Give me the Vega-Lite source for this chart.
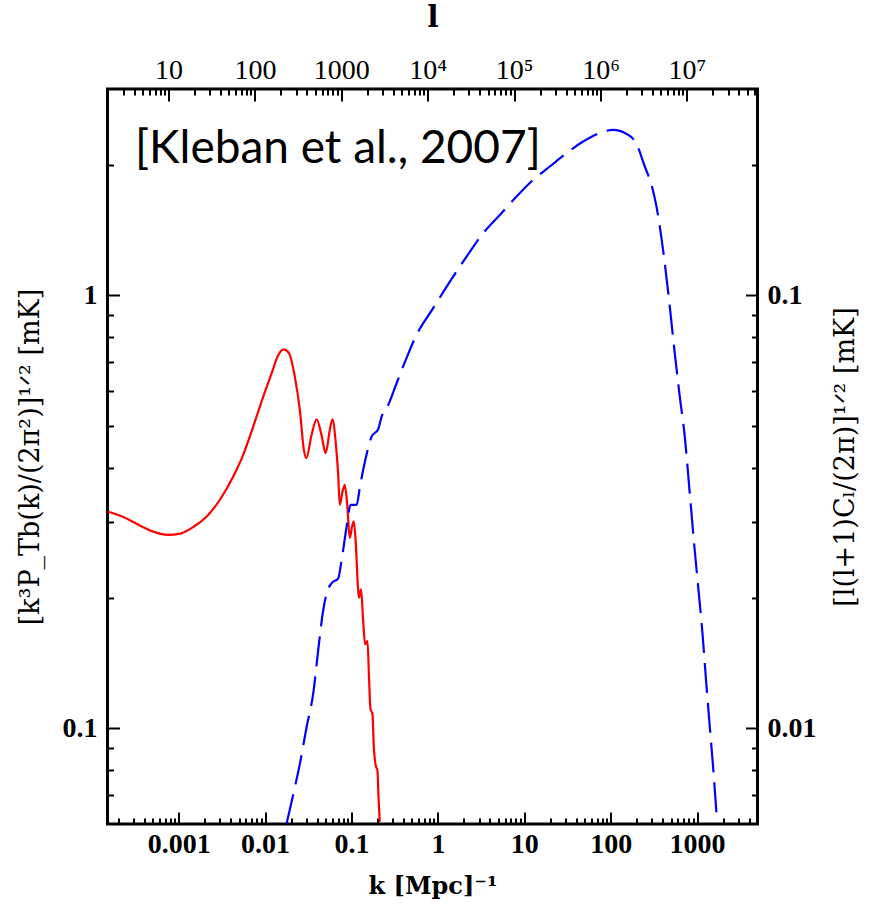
{
  "$schema": "https://vega.github.io/schema/vega-lite/v6.json",
  "width": 650,
  "height": 735,
  "autosize": "none",
  "padding": {"left": 107.5, "top": 89, "right": 111.5, "bottom": 86},
  "background": "white",
  "config": {
    "view": {"stroke": "black", "strokeWidth": 3},
    "axis": {"domain": false, "grid": false, "tickColor": "black", "tickWidth": 2, "labelColor": "black", "titleColor": "black", "labelOverlap": false, "labelFlush": false, "labelBound": false, "labelAngle": 0}
  },
  "datasets": {
    "red": [
      {"k": 0.00015, "v": 0.3167}, {"k": 0.000229, "v": 0.3075}, {"k": 0.000357, "v": 0.2936}, {"k": 0.000508, "v": 0.2844},
      {"k": 0.000758, "v": 0.2795}, {"k": 0.001035, "v": 0.2814}, {"k": 0.001475, "v": 0.2916}, {"k": 0.00211, "v": 0.3084},
      {"k": 0.003, "v": 0.337}, {"k": 0.00428, "v": 0.3814}, {"k": 0.00558, "v": 0.428}, {"k": 0.00728, "v": 0.497},
      {"k": 0.0095, "v": 0.583}, {"k": 0.01189, "v": 0.66}, {"k": 0.01417, "v": 0.727}, {"k": 0.0165, "v": 0.75},
      {"k": 0.019, "v": 0.734}, {"k": 0.0221, "v": 0.648}, {"k": 0.02526, "v": 0.543}, {"k": 0.0281, "v": 0.4395},
      {"k": 0.03, "v": 0.4205}, {"k": 0.0345, "v": 0.4759}, {"k": 0.03949, "v": 0.517}, {"k": 0.04498, "v": 0.4759},
      {"k": 0.0502, "v": 0.4318}, {"k": 0.0561, "v": 0.4886}, {"k": 0.0603, "v": 0.517}, {"k": 0.0658, "v": 0.4552},
      {"k": 0.07, "v": 0.3883}, {"k": 0.0732, "v": 0.3282}, {"k": 0.0787, "v": 0.352}, {"k": 0.0836, "v": 0.365},
      {"k": 0.0889, "v": 0.3311}, {"k": 0.0956, "v": 0.275}, {"k": 0.1016, "v": 0.2925}, {"k": 0.1063, "v": 0.3003},
      {"k": 0.1121, "v": 0.2679}, {"k": 0.1192, "v": 0.2091}, {"k": 0.1224, "v": 0.2001}, {"k": 0.1291, "v": 0.2091},
      {"k": 0.1362, "v": 0.1783}, {"k": 0.1437, "v": 0.1562}, {"k": 0.1531, "v": 0.1589}, {"k": 0.1598, "v": 0.1297},
      {"k": 0.1659, "v": 0.1106}, {"k": 0.1749, "v": 0.1077}, {"k": 0.181, "v": 0.091}, {"k": 0.191, "v": 0.0818},
      {"k": 0.1998, "v": 0.0797}, {"k": 0.2051, "v": 0.0698}, {"k": 0.2124, "v": 0.0607}
    ],
    "blue": [
      {"l": 233.0, "r": 0.00602}, {"l": 285.3, "r": 0.007188}, {"l": 332.2, "r": 0.008286}, {"l": 397.1, "r": 0.01007},
      {"l": 473.3, "r": 0.01203}, {"l": 540.8, "r": 0.01515}, {"l": 617.8, "r": 0.01874}, {"l": 676.5, "r": 0.02049},
      {"l": 772.7, "r": 0.02161}, {"l": 921.3, "r": 0.02219}, {"l": 1008.6, "r": 0.02446}, {"l": 1152, "r": 0.02921},
      {"l": 1281.7, "r": 0.03279}, {"l": 1503.9, "r": 0.03279}, {"l": 1642.4, "r": 0.03613}, {"l": 1876.6, "r": 0.04127},
      {"l": 2243, "r": 0.04716}, {"l": 2674, "r": 0.04906}, {"l": 2928, "r": 0.05246}, {"l": 3490, "r": 0.05582},
      {"l": 4365, "r": 0.06266}, {"l": 5697, "r": 0.0717}, {"l": 7106, "r": 0.07962}, {"l": 11570, "r": 0.09342},
      {"l": 18060, "r": 0.1076}, {"l": 28170, "r": 0.1229}, {"l": 43830, "r": 0.1392}, {"l": 68390, "r": 0.1535},
      {"l": 106700, "r": 0.1692}, {"l": 166100, "r": 0.185}, {"l": 259100, "r": 0.1986}, {"l": 404400, "r": 0.2132},
      {"l": 629200, "r": 0.2268}, {"l": 981500, "r": 0.2375}, {"l": 1399000, "r": 0.2414}, {"l": 1999000, "r": 0.2363},
      {"l": 2609000, "r": 0.224}, {"l": 3254000, "r": 0.1986}, {"l": 3890000, "r": 0.1801}, {"l": 4445000, "r": 0.1604},
      {"l": 4853000, "r": 0.1442}, {"l": 5545000, "r": 0.1187}, {"l": 6334000, "r": 0.09421}, {"l": 7237000, "r": 0.0735},
      {"l": 8270000, "r": 0.05834}, {"l": 9445000, "r": 0.04716}, {"l": 10790000, "r": 0.03488}, {"l": 12100000, "r": 0.02673},
      {"l": 13610000, "r": 0.02085}, {"l": 15140000, "r": 0.01656}, {"l": 16530000, "r": 0.01314}, {"l": 18390000, "r": 0.01007},
      {"l": 20080000, "r": 0.008139}, {"l": 22330000, "r": 0.006073}
    ],
    "note": [
      {"k": 0.000312, "v": 2.025, "label": "[Kleban et al., 2007]"}
    ]
  },
  "layer": [
    {
      "data": {"name": "red"},
      "mark": {"type": "line", "color": "#ff0000", "strokeWidth": 2.2, "interpolate": "monotone", "clip": true},
      "encoding": {
        "x": {
          "field": "k", "type": "quantitative",
          "scale": {"type": "log", "domain": [0.00015, 5000], "nice": false},
          "axis": {
            "orient": "bottom",
            "title": "k [Mpc]⁻¹",
            "titleFont": "DejaVu Serif", "titleFontWeight": "bold", "titleFontSize": 24, "titlePadding": 10,
            "values": [0.0002,0.0003,0.0004,0.0005,0.0006,0.0007,0.0008,0.0009,0.001,0.002,0.003,0.004,0.005,0.006,0.007,0.008,0.009,0.01,0.02,0.03,0.04,0.05,0.06,0.07,0.08,0.09,0.1,0.2,0.3,0.4,0.5,0.6,0.7,0.8,0.9,1,2,3,4,5,6,7,8,9,10,20,30,40,50,60,70,80,90,100,200,300,400,500,600,700,800,900,1000,2000,3000,4000],
            "labelExpr": "abs(log(datum.value)/LN10 - round(log(datum.value)/LN10)) < 0.001 ? format(datum.value, '~g') : ''",
            "tickSize": {"condition": {"test": "abs(log(datum.value)/LN10 - round(log(datum.value)/LN10)) < 0.001", "value": -12}, "value": -6},
            "labelPadding": 18,
            "labelFont": "Liberation Serif", "labelFontWeight": "bold", "labelFontSize": 28
          }
        },
        "y": {
          "field": "v", "type": "quantitative",
          "scale": {"type": "log", "domain": [0.06, 3], "nice": false},
          "axis": {
            "orient": "left",
            "title": "[k³P_Tb(k)/(2π²)]¹ᐟ²  [mK]",
            "titleFont": "DejaVu Serif", "titleFontWeight": "normal", "titleFontSize": 27, "titlePadding": 18,
            "values": [0.07,0.08,0.09,0.1,0.2,0.3,0.4,0.5,0.6,0.7,0.8,0.9,1,2],
            "labelExpr": "abs(log(datum.value)/LN10 - round(log(datum.value)/LN10)) < 0.001 ? format(datum.value, '~g') : ''",
            "tickSize": {"condition": {"test": "abs(log(datum.value)/LN10 - round(log(datum.value)/LN10)) < 0.001", "value": -12}, "value": -6},
            "labelPadding": 22.5,
            "labelFont": "Liberation Serif", "labelFontWeight": "bold", "labelFontSize": 28
          }
        }
      }
    },
    {
      "data": {"name": "note"},
      "mark": {"type": "text", "align": "left", "baseline": "alphabetic", "font": "Lato", "fontSize": 46, "color": "black"},
      "encoding": {
        "x": {"field": "k", "type": "quantitative", "scale": {"type": "log", "domain": [0.00015, 5000], "nice": false}, "axis": null},
        "y": {"field": "v", "type": "quantitative", "scale": {"type": "log", "domain": [0.06, 3], "nice": false}, "axis": null},
        "text": {"field": "label"}
      }
    },
    {
      "data": {"name": "blue"},
      "mark": {"type": "line", "color": "#0000ff", "strokeWidth": 2.2, "strokeDash": [30, 10], "interpolate": "monotone", "clip": true},
      "encoding": {
        "x": {
          "field": "l", "type": "quantitative",
          "scale": {"type": "log", "domain": [1.968, 65600000], "nice": false},
          "axis": {
            "orient": "top",
            "title": "l",
            "titleFont": "DejaVu Serif", "titleFontWeight": "bold", "titleFontSize": 30, "titlePadding": 18,
            "values": [3,4,5,6,7,8,9,10,20,30,40,50,60,70,80,90,100,200,300,400,500,600,700,800,900,1000,2000,3000,4000,5000,6000,7000,8000,9000,10000,20000,30000,40000,50000,60000,70000,80000,90000,100000,200000,300000,400000,500000,600000,700000,800000,900000,1000000,2000000,3000000,4000000,5000000,6000000,7000000,8000000,9000000,10000000,20000000,30000000,40000000,50000000,60000000],
            "labelExpr": "abs(log(datum.value)/LN10 - round(log(datum.value)/LN10)) < 0.001 ? (datum.value < 5000 ? format(datum.value, '~g') : '10' + (round(log(datum.value)/LN10) == 4 ? '⁴' : round(log(datum.value)/LN10) == 5 ? '⁵' : round(log(datum.value)/LN10) == 6 ? '⁶' : '⁷')) : ''",
            "tickSize": {"condition": {"test": "abs(log(datum.value)/LN10 - round(log(datum.value)/LN10)) < 0.001", "value": -12}, "value": -6},
            "labelPadding": 17,
            "labelFont": "Liberation Serif", "labelFontWeight": "normal", "labelFontSize": 28
          }
        },
        "y": {
          "field": "r", "type": "quantitative",
          "scale": {"type": "log", "domain": [0.006, 0.3], "nice": false},
          "axis": {
            "orient": "right",
            "title": "[l(l+1)Cₗ/(2π)]¹ᐟ² [mK]",
            "titleFont": "DejaVu Serif", "titleFontWeight": "normal", "titleFontSize": 27, "titlePadding": 16,
            "titleAngle": 270, "titleBaseline": "top",
            "values": [0.007,0.008,0.009,0.01,0.02,0.03,0.04,0.05,0.06,0.07,0.08,0.09,0.1,0.2],
            "labelExpr": "abs(log(datum.value)/LN10 - round(log(datum.value)/LN10)) < 0.001 ? format(datum.value, '~g') : ''",
            "tickSize": {"condition": {"test": "abs(log(datum.value)/LN10 - round(log(datum.value)/LN10)) < 0.001", "value": -12}, "value": -6},
            "labelPadding": 21.5,
            "labelFont": "Liberation Serif", "labelFontWeight": "bold", "labelFontSize": 28
          }
        }
      }
    }
  ],
  "resolve": {"scale": {"x": "independent", "y": "independent"}, "axis": {"x": "independent", "y": "independent"}}
}
